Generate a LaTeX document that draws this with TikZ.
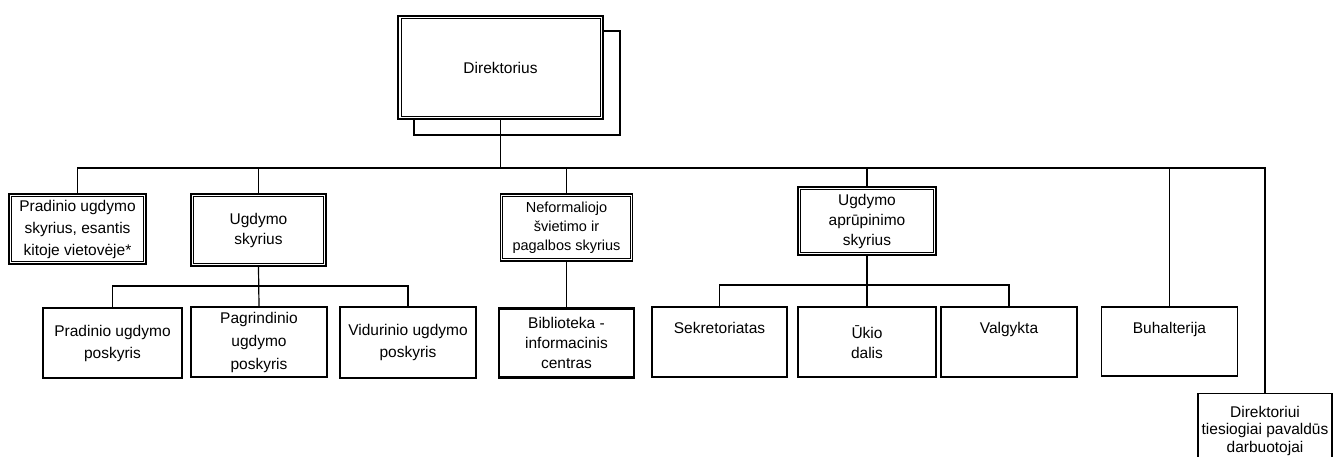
\documentclass[tikz,border=0pt]{standalone}
\usepackage{fontspec}
\setmainfont{Liberation Sans}
\begin{document}
\begin{tikzpicture}[x=1pt,y=-1pt,
  box/.style={draw, fill=white, align=center, inner sep=0pt, line width=1.3pt,
              font=\fontsize{15.5}{21}\selectfont},
  dbox/.style={box, line width=1.9pt},
  innerline/.style={line width=0.8pt},
  bbox/.style={box, line width=2.1pt},
  conn/.style={line width=1.2pt},
  shadowline/.style={line width=2pt}
]
\clip (0,0) rectangle (1333,457);
\fill[white] (0,0) rectangle (1333,457);

% Direktorius with shadow
\draw[shadowline] (414,31) rectangle (620,135);
\node[dbox, line width=2.2pt, minimum width=205, minimum height=103] (dir) at (500.5,67.5) {Direktorius};

% first level
\node[dbox, minimum width=137, minimum height=70, font=\fontsize{15.5}{22}\selectfont] (pus) at (77.5,229) {Pradinio ugdymo\\skyrius, esantis\\kitoje vietovėje*};
\node[dbox, minimum width=135, minimum height=72, font=\fontsize{15.5}{20}\selectfont] (us) at (258.5,230) {Ugdymo\\skyrius};
\node[dbox, minimum width=132, minimum height=67, font=\fontsize{14.5}{19}\selectfont] (nef) at (566.5,227.5) {Neformaliojo\\švietimo ir\\pagalbos skyrius};
\node[dbox, minimum width=138, minimum height=68, font=\fontsize{15.5}{20}\selectfont] (uap) at (867,221) {Ugdymo\\aprūpinimo\\skyrius};
\node[box, minimum width=136, minimum height=69] (buh) at (1169.5,341.5) {Buhalterija\\\strut};
\node[box, anchor=north, minimum width=134, minimum height=74, font=\fontsize{15.5}{17.5}\selectfont] (dtp) at (1265,393) {Direktoriui\\tiesiogiai pavaldūs\\darbuotojai};

% inner lines of the double-framed boxes
\draw[innerline] ([shift={(4pt,-4pt)}]dir.north west) rectangle ([shift={(-4pt,4pt)}]dir.south east);
\foreach \n in {pus,us,nef,uap}
  \draw[innerline] ([shift={(3.3pt,-3.3pt)}]\n.north west) rectangle ([shift={(-3.3pt,3.3pt)}]\n.south east);

% second level
\node[box, minimum width=139, minimum height=70, font=\fontsize{15.5}{22}\selectfont] (pup) at (112.5,343) {Pradinio ugdymo\\poskyris};
\node[box, minimum width=136, minimum height=70, font=\fontsize{15.5}{23}\selectfont] (pag) at (259,342) {Pagrindinio\\ugdymo\\poskyris};
\node[box, minimum width=136, minimum height=71, font=\fontsize{15.5}{22}\selectfont] (vup) at (408,342.5) {Vidurinio ugdymo\\poskyris};
\node[bbox, minimum width=135, minimum height=69, font=\fontsize{15.5}{20}\selectfont] (bib) at (566.5,343) {Biblioteka -\\informacinis\\centras};
\node[box, minimum width=135, minimum height=70] (sek) at (719.5,342) {Sekretoriatas\\\strut};
\node[box, minimum width=138, minimum height=70, font=\fontsize{15.5}{20}\selectfont] (ukio) at (867,342) {Ūkio\\dalis};
\node[box, minimum width=136, minimum height=70] (val) at (1009,342) {Valgykta\\\strut};

% connectors
\coordinate (bus) at (0,168);
\coordinate (sba) at (0,286);
\coordinate (sbb) at (0,285);
\draw[conn] (dir.south) -- (dir.south |- bus);
\draw[conn] (pus.north) |- (dtp.north |- bus) -- (dtp.north);
\foreach \n in {us,nef,uap,buh} \draw[conn] (\n.north) -- (\n.north |- bus);

\draw[conn] (us.south) -- (pag.north);
\draw[conn] (pup.north) |- (vup.north |- sba) -- (vup.north);

\draw[conn] (nef.south) -- (bib.north);

\draw[conn] (uap.south) -- (ukio.north);
\draw[conn] (sek.north) |- (val.north |- sbb) -- (val.north);
\end{tikzpicture}
\end{document}
